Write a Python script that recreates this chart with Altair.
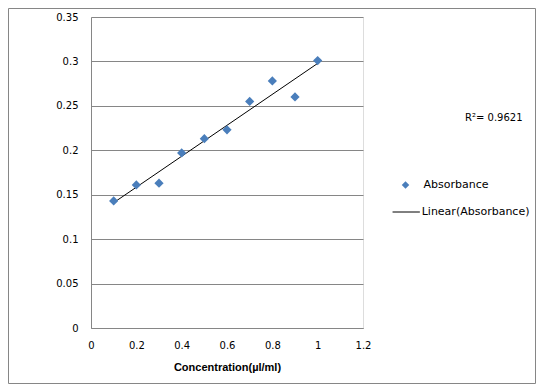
import altair as alt
import pandas as pd

concentration = [0.1, 0.2, 0.3, 0.4, 0.5, 0.6, 0.7, 0.8, 0.9, 1.0]
absorbance = [0.143, 0.161, 0.163, 0.197, 0.213, 0.223, 0.255, 0.278, 0.260, 0.301]
series_name = ["Absorbance"]
trend_name = ["Linear(Absorbance)"]
r_squared = ["R\u00b2= 0.9621"]
x_ticks = [0, 0.2, 0.4, 0.6, 0.8, 1.0, 1.2]
y_ticks = [0, 0.05, 0.1, 0.15, 0.2, 0.25, 0.3, 0.35]

df = pd.DataFrame({"x": concentration, "y": absorbance, "series": series_name * len(concentration)})

GRAY = "#868686"
BLUE = "#4a7ebb"
FONT = "DejaVu Sans"

xscale = alt.Scale(domain=[0, 1.2], nice=False, zero=True)
yscale = alt.Scale(domain=[0, 0.35], nice=False)

xaxis = alt.Axis(values=x_ticks, format="~g", grid=False, ticks=False, tickSize=0,
                 labelFlush=False, labelOverlap=False,
                 labelPadding=12, domainColor=GRAY, labelFont=FONT, labelFontSize=10,
                 labelColor="black", title="Concentration(\u00b5l/ml)", titleFont="Liberation Sans",
                 titleFontSize=11, titleFontWeight="bold", titleColor="black", titlePadding=11)
yaxis = alt.Axis(values=y_ticks, format="~g", grid=True, gridColor=GRAY, ticks=False, tickSize=0,
                 labelFlush=False, labelOverlap=False,
                 labelPadding=13, domainColor=GRAY, labelFont=FONT, labelFontSize=10,
                 labelColor="black", title=None)

base = alt.Chart(df)

points = base.mark_point(shape="diamond", filled=True, size=85, opacity=1).encode(
    x=alt.X("x:Q", scale=xscale, axis=xaxis),
    y=alt.Y("y:Q", scale=yscale, axis=yaxis),
    color=alt.Color("series:N", scale=alt.Scale(domain=series_name, range=[BLUE]),
                    legend=alt.Legend(title=None, orient="none", legendX=309, legendY=162.5,
                                      symbolType="diamond", symbolSize=56, padding=0,
                                      labelOffset=12.5, labelFont=FONT, labelFontSize=11,
                                      labelColor="black", symbolOpacity=1)),
)

trend = base.transform_regression("x", "y").transform_calculate(
    trend="'" + trend_name[0] + "'"
).mark_line(strokeWidth=1).encode(
    x=alt.X("x:Q", scale=xscale),
    y=alt.Y("y:Q", scale=yscale),
    stroke=alt.Stroke("trend:N", scale=alt.Scale(domain=trend_name, range=["black"]),
                      legend=alt.Legend(title=None, orient="none", legendX=300.7, legendY=180.5,
                                        symbolType="stroke", symbolSize=745, symbolStrokeWidth=1,
                                        padding=0, labelOffset=1, labelFont=FONT, labelFontSize=11,
                                        labelColor="black")),
)

note = alt.Chart(pd.DataFrame({"t": r_squared})).mark_text(
    align="left", baseline="middle", font=FONT, fontSize=10, color="black"
).encode(x=alt.value(374), y=alt.value(100.5), text="t:N")

frame = alt.Chart(pd.DataFrame({"a": [0]})).mark_rect(
    fill=None, stroke=GRAY, strokeWidth=1, fillOpacity=0
).encode(x=alt.value(-82.5), x2=alt.value(444.5), y=alt.value(-8.5), y2=alt.value(366.5))

chart = alt.layer(frame, trend, points, note).properties(
    width=272, height=311,
    autosize=alt.AutoSizeParams(type="none"),
    padding={"left": 83, "top": 9, "right": 173, "bottom": 56},
).configure_view(stroke=None).configure(background="white")

chart.save("out.html", embed_options={"renderer": "svg", "actions": False})
